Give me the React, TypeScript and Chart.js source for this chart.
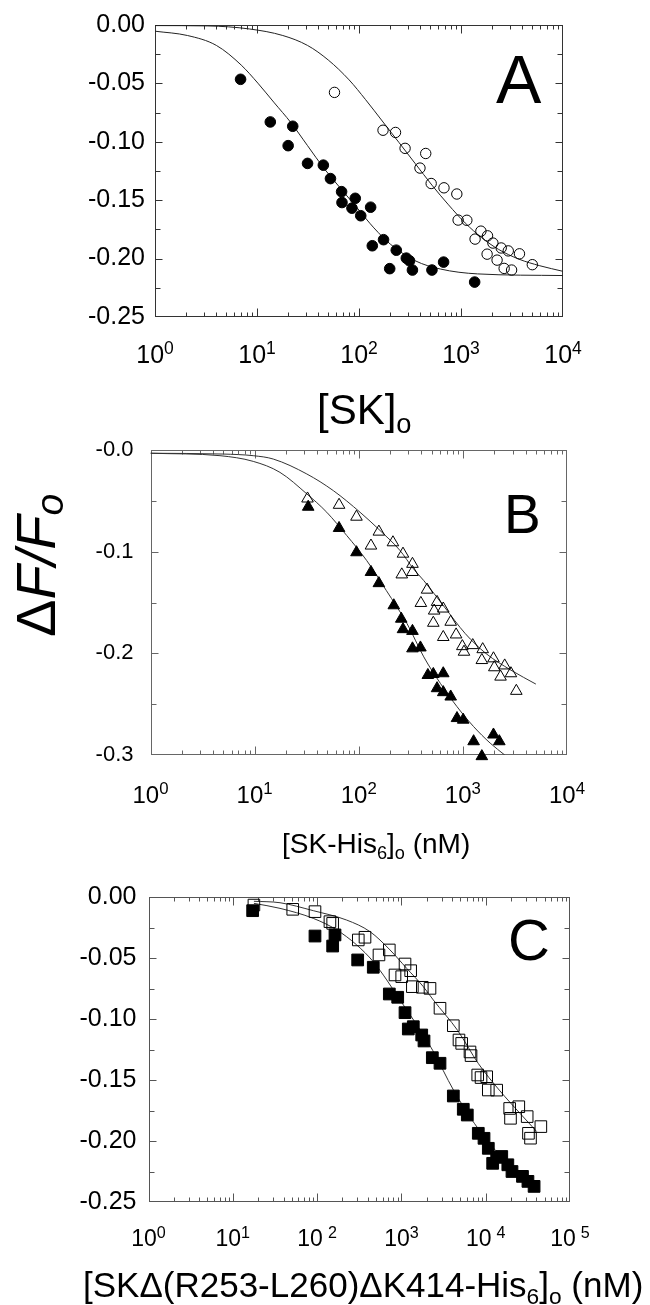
import React, { useEffect, useRef } from 'react';
import { Chart, registerables } from 'chart.js';

Chart.register(...registerables);

const FONT = '"Liberation Sans", Arial, sans-serif';
const NARROW = '"Liberation Sans Narrow", "Liberation Sans", Arial, sans-serif';

// ---------------- Panel A : [SK]o ----------------
const aFilledX = [6.9, 13.5, 22.4, 20.2, 31.3, 44.7, 52.5, 67.5, 68.1, 91.9, 85.3, 104, 130, 135, 174, 232, 200, 291, 313, 334, 519, 675, 1361];
const aFilledY = [-0.0465, -0.083, -0.0867, -0.1033, -0.1185, -0.12, -0.1315, -0.1427, -0.152, -0.1484, -0.1568, -0.1633, -0.156, -0.189, -0.1838, -0.1928, -0.2086, -0.1996, -0.2019, -0.2098, -0.2098, -0.203, -0.2201];
const aOpenX = [57.5, 172, 228, 283, 451, 396, 510, 681, 910, 937, 1141, 1374, 1567, 1820, 2055, 1803, 2258, 2478, 2906, 2649, 3133, 3743, 5003];
const aOpenY = [-0.0577, -0.0901, -0.092, -0.1056, -0.11, -0.1225, -0.1357, -0.1394, -0.1447, -0.167, -0.1672, -0.1833, -0.1765, -0.1805, -0.1867, -0.1962, -0.2013, -0.1909, -0.1934, -0.2084, -0.2098, -0.1959, -0.2052];
const aFitFilledX = [1, 2.08, 4, 7, 10.2, 14.8, 21.5, 31.3, 45.6, 66.2, 96.3, 140, 204, 357, 626, 1455, 10000];
const aFitFilledY = [-0.0053, -0.009, -0.0175, -0.0343, -0.0498, -0.0667, -0.0836, -0.1033, -0.123, -0.14, -0.1568, -0.1737, -0.1878, -0.2019, -0.2089, -0.2131, -0.2145];
const aFitOpenX = [1, 3.3, 8.45, 17.9, 31.3, 50, 80, 116, 169, 246, 357, 519, 755, 1099, 1596, 2322, 3706, 5918, 10000];
const aFitOpenY = [-0.0005, -0.0008, -0.0034, -0.009, -0.0175, -0.03, -0.047, -0.0639, -0.0822, -0.1005, -0.1188, -0.1371, -0.154, -0.1695, -0.1821, -0.192, -0.2005, -0.2061, -0.2109];

// ---------------- Panel B : [SK-His6]o ----------------
const bOpenX = [32.2, 64.7, 95.1, 156, 131, 213, 266, 328, 259, 328, 453, 395, 565, 530, 648, 520, 764, 648, 861, 988, 1025, 1244, 1521, 1550, 1967, 2005, 2521, 2300, 2893, 3260];
const bOpenY = [-0.0477, -0.0539, -0.0656, -0.0803, -0.094, -0.0908, -0.102, -0.112, -0.1224, -0.12, -0.1374, -0.1505, -0.1495, -0.158, -0.156, -0.17, -0.169, -0.184, -0.1815, -0.193, -0.1985, -0.192, -0.2067, -0.196, -0.205, -0.2138, -0.212, -0.223, -0.2197, -0.237];
const bFilledX = [32.7, 64.7, 95.1, 131, 156, 217, 256, 266, 328, 328, 391, 461, 520, 648, 565, 648, 764, 878, 1007, 1268, 1967, 2239, 1521];
const bFilledY = [-0.0558, -0.0767, -0.1006, -0.12, -0.131, -0.1528, -0.166, -0.1763, -0.178, -0.1952, -0.1943, -0.2214, -0.2204, -0.2197, -0.2344, -0.2383, -0.2426, -0.2638, -0.2654, -0.2866, -0.28, -0.2866, -0.3013];
const bFitOpenX = [1, 5, 9.7, 15.1, 31.7, 57, 103, 160, 249, 335, 421, 666, 1054, 1667, 2896, 5024];
const bFitOpenY = [-0.003, -0.0038, -0.0054, -0.0087, -0.0234, -0.0398, -0.0611, -0.079, -0.0987, -0.1167, -0.1283, -0.1544, -0.1805, -0.2001, -0.2165, -0.2302];
const bFitFilledX = [1, 4.65, 9.7, 17.5, 31.7, 49.3, 76.7, 119, 184, 291, 421, 608, 878, 1267, 1829, 2522];
const bFitFilledY = [-0.003, -0.0054, -0.011, -0.0218, -0.043, -0.0611, -0.084, -0.1085, -0.1381, -0.1707, -0.2034, -0.2295, -0.2524, -0.272, -0.2883, -0.3];

// ---------------- Panel C : [SKΔ(R253-L260)ΔK414-His6]o ----------------
const cOpenX = [17.8, 51.4, 94.4, 142, 153, 308, 370, 542, 719, 1104, 1288, 840, 1008, 1349, 1770, 2184, 2870, 4130, 4820, 5190, 6510, 6700, 8040, 8800, 10280, 10740, 13500, 19250, 24700, 19690, 31050, 32150, 34000, 45100];
const cOpenY = [-0.0066, -0.0101, -0.012, -0.0202, -0.0216, -0.0352, -0.033, -0.0475, -0.0434, -0.0549, -0.0604, -0.0639, -0.0653, -0.0735, -0.074, -0.0749, -0.0912, -0.1055, -0.1172, -0.12, -0.127, -0.13, -0.1459, -0.148, -0.1473, -0.1582, -0.1583, -0.1733, -0.1719, -0.1814, -0.18, -0.1937, -0.1977, -0.1882];
const cFilledX = [17.2, 94.4, 163, 153, 303, 464, 719, 904, 1104, 1208, 1384, 1742, 1854, 2328, 2870, 4130, 5420, 6050, 8170, 9550, 10740, 12100, 13500, 15500, 18300, 20500, 27300, 31700, 37500];
const cFilledY = [-0.0112, -0.032, -0.0311, -0.0402, -0.0516, -0.0576, -0.0795, -0.0822, -0.0948, -0.1082, -0.1063, -0.1131, -0.118, -0.1317, -0.1363, -0.1631, -0.174, -0.1787, -0.1937, -0.1978, -0.206, -0.2183, -0.2134, -0.2127, -0.2195, -0.225, -0.229, -0.2331, -0.2372];
const cFitOpenX = [17.8, 36.3, 90, 224, 424, 733, 1156, 1820, 2390, 4650, 8200, 14500, 25580, 40300];
const cFitOpenY = [-0.0035, -0.0047, -0.0112, -0.0189, -0.0284, -0.0434, -0.0585, -0.0735, -0.0844, -0.1094, -0.1366, -0.1583, -0.1774, -0.1923];
const cFitFilledX = [17.8, 36.3, 90, 171, 295, 464, 670, 962, 1493, 2350, 4150, 7330, 12920, 22800, 40300];
const cFitFilledY = [-0.0052, -0.0093, -0.0175, -0.027, -0.0393, -0.053, -0.068, -0.0844, -0.1039, -0.1257, -0.1583, -0.1855, -0.2073, -0.2236, -0.2345];

// ---------------- tick labels ----------------
const aYTicks = ['0.00', '-0.05', '-0.10', '-0.15', '-0.20', '-0.25'];
const bYTicks = ['-0.0', '-0.1', '-0.2', '-0.3'];
const cYTicks = ['0.00', '-0.05', '-0.10', '-0.15', '-0.20', '-0.25'];
const aDecades = [0, 1, 2, 3, 4];
const bDecades = [0, 1, 2, 3, 4];
const cDecades = [0, 1, 2, 3, 4, 5];

type Seg = { t: string; s?: number; dy?: number; dx?: number; italic?: boolean };

function drawRich(ctx: CanvasRenderingContext2D, segs: Seg[], x: number, y: number, fs: number, family: string, align: 'left' | 'center' = 'left') {
  const fontFor = (sg: Seg) => `${sg.italic ? 'italic ' : ''}${fs * (sg.s ?? 1)}px ${family}`;
  let total = 0;
  const ws = segs.map((sg) => {
    ctx.font = fontFor(sg);
    const w = ctx.measureText(sg.t).width + (sg.dx ?? 0);
    total += w;
    return w;
  });
  let cx = align === 'center' ? x - total / 2 : x;
  ctx.textAlign = 'left';
  ctx.textBaseline = 'alphabetic';
  ctx.fillStyle = '#000';
  segs.forEach((sg, i) => {
    ctx.font = fontFor(sg);
    ctx.fillText(sg.t, cx + (sg.dx ?? 0), y + (sg.dy ?? 0));
    cx += ws[i];
  });
}

const pts = (xs: number[], ys: number[]) => xs.map((x, i) => ({ x, y: ys[i] }));

function markerSet(xs: number[], ys: number[], style: string, radius: number, filled: boolean) {
  return {
    type: 'scatter',
    data: pts(xs, ys),
    pointStyle: style,
    pointRadius: radius,
    pointHoverRadius: radius,
    pointBackgroundColor: filled ? '#000' : 'rgba(255,255,255,0)',
    pointBorderColor: '#000',
    pointBorderWidth: 1,
    showLine: false,
    clip: false,
  };
}

function curveSet(xs: number[], ys: number[], color: string) {
  return {
    type: 'line',
    data: pts(xs, ys),
    borderColor: color,
    borderWidth: 1,
    pointRadius: 0,
    pointHoverRadius: 0,
    fill: false,
    cubicInterpolationMode: 'monotone',
    showLine: true,
  };
}

interface PanelDef {
  canvasTop: number;
  canvasH: number;
  left: number;
  right: number;
  top: number;
  bottom: number;
  xMin: number;
  xMax: number;
  decades: number[];
  yMin: number;
  yMax: number;
  yStep: number;
  yMinor: number;
  yLabels: string[];
  yFont: number;
  yPad: number;
  frame: string;
  xFont: number;
  xBase: number;
  expGap: (d: number) => number;
  datasets: any[];
  texts: (ctx: CanvasRenderingContext2D, off: number) => void;
}

const panels: PanelDef[] = [
  {
    canvasTop: 0, canvasH: 450,
    left: 155, right: 563, top: 21, bottom: 317,
    xMin: 1, xMax: 1e4, decades: aDecades,
    yMin: -0.25, yMax: 0, yStep: 0.05, yMinor: 0.025, yLabels: aYTicks, yFont: 25, yPad: 10,
    frame: '#333', xFont: 25, xBase: 363, expGap: () => 0,
    datasets: [
      markerSet(aFilledX, aFilledY, 'circle', 5.3, true),
      markerSet(aOpenX, aOpenY, 'circle', 5.2, false),
      curveSet(aFitFilledX, aFitFilledY, '#222'),
      curveSet(aFitOpenX, aFitOpenY, '#222'),
    ],
    texts: (ctx, off) => {
      drawRich(ctx, [{ t: '[SK]' }, { t: 'o', s: 0.65, dy: 9 }], 317, 424 - off, 42, FONT);
      drawRich(ctx, [{ t: 'A' }], 496, 103 - off, 68, FONT);
    },
  },
  {
    canvasTop: 420, canvasH: 450,
    left: 150.5, right: 567, top: 449.5, bottom: 755,
    xMin: 1, xMax: 1e4, decades: bDecades,
    yMin: -0.3, yMax: 0, yStep: 0.1, yMinor: 0.05, yLabels: bYTicks, yFont: 22, yPad: 17,
    frame: '#666', xFont: 24, xBase: 803, expGap: () => 0,
    datasets: [
      markerSet(bFilledX, bFilledY, 'triangle', 6.7, true),
      markerSet(bOpenX, bOpenY, 'triangle', 6.7, false),
      curveSet(bFitFilledX, bFitFilledY, '#333'),
      curveSet(bFitOpenX, bFitOpenY, '#333'),
    ],
    texts: (ctx, off) => {
      drawRich(ctx, [{ t: '[SK-His' }, { t: '6', s: 0.65, dy: 6 }, { t: ']' }, { t: 'o', s: 0.65, dy: 6 }, { t: ' (nM)' }], 282, 853 - off, 28, FONT);
      drawRich(ctx, [{ t: 'B' }], 504, 533 - off, 55, FONT);
      ctx.save();
      ctx.translate(55, 637 - off);
      ctx.rotate(-Math.PI / 2);
      drawRich(ctx, [{ t: 'Δ' }, { t: 'F/F', italic: true }, { t: 'o', italic: true, s: 0.7, dy: 8 }], 0, 0, 56, FONT);
      ctx.restore();
    },
  },
  {
    canvasTop: 860, canvasH: 445,
    left: 148.5, right: 570, top: 897, bottom: 1202,
    xMin: 1, xMax: 1e5, decades: cDecades,
    yMin: -0.25, yMax: 0, yStep: 0.05, yMinor: 0.025, yLabels: cYTicks, yFont: 25, yPad: 12,
    frame: '#555', xFont: 23, xBase: 1246, expGap: (d) => (d === 2 || d === 4 || d === 5 ? 5 : 0),
    datasets: [
      markerSet(cFilledX, cFilledY, 'rect', 8.3, true),
      markerSet(cOpenX, cOpenY, 'rect', 8.2, false),
      curveSet(cFitFilledX, cFitFilledY, '#333'),
      curveSet(cFitOpenX, cFitOpenY, '#333'),
    ],
    texts: (ctx, off) => {
      drawRich(ctx, [{ t: '[SKΔ(R253-L260)ΔK414-His' }, { t: '6', s: 0.65, dy: 7 }, { t: ']' }, { t: 'o', s: 0.65, dy: 7 }, { t: ' (nM)' }], 83, 1297 - off, 35, FONT);
      drawRich(ctx, [{ t: 'C' }], 508, 960 - off, 58, NARROW);
    },
  },
];

function makeDecor(p: PanelDef) {
  return {
    id: 'decor',
    beforeDatasetsDraw(chart: any) {
      const { ctx, chartArea } = chart;
      const xs = chart.scales.x;
      const ys = chart.scales.y;
      const l = Math.round(chartArea.left) + 0.5;
      const r = Math.round(chartArea.right) - 0.5;
      const t = Math.round(chartArea.top) + 0.5;
      const b = Math.round(chartArea.bottom) - 0.5;
      ctx.save();
      ctx.strokeStyle = p.frame;
      ctx.lineWidth = 1;
      ctx.strokeRect(l, t, r - l, b - t);
      ctx.beginPath();
      const n = Math.round((p.yMax - p.yMin) / p.yMinor);
      for (let i = 1; i < n; i++) {
        const v = p.yMin + i * p.yMinor;
        const major = Math.abs(v / p.yStep - Math.round(v / p.yStep)) < 1e-6;
        const len = major ? 7 : 5;
        const py = Math.round(ys.getPixelForValue(v)) + 0.5;
        ctx.moveTo(l, py); ctx.lineTo(l + len, py);
        ctx.moveTo(r, py); ctx.lineTo(r - len, py);
      }
      const ds = p.decades;
      for (let k = 0; k < ds.length; k++) {
        const d = ds[k];
        if (k > 0 && k < ds.length - 1) {
          const px = Math.round(xs.getPixelForValue(Math.pow(10, d))) + 0.5;
          ctx.moveTo(px, b); ctx.lineTo(px, b - 8);
          ctx.moveTo(px, t); ctx.lineTo(px, t + 8);
        }
        if (k < ds.length - 1) {
          for (let m = 2; m <= 9; m++) {
            const px = Math.round(xs.getPixelForValue(m * Math.pow(10, d))) + 0.5;
            ctx.moveTo(px, b); ctx.lineTo(px, b - 4);
            ctx.moveTo(px, t); ctx.lineTo(px, t + 4);
          }
        }
      }
      ctx.stroke();
      ctx.restore();
    },
    afterDraw(chart: any) {
      const { ctx } = chart;
      const xs = chart.scales.x;
      ctx.save();
      for (const d of p.decades) {
        const px = xs.getPixelForValue(Math.pow(10, d));
        drawRich(ctx, [{ t: '10' }, { t: String(d), s: 0.7, dy: -0.36 * p.xFont, dx: p.expGap(d) }], px, p.xBase - p.canvasTop, p.xFont, FONT, 'center');
      }
      p.texts(ctx, p.canvasTop);
      ctx.restore();
    },
  };
}

function Panel({ p }: { p: PanelDef }) {
  const ref = useRef<HTMLCanvasElement>(null);
  useEffect(() => {
    const canvas = ref.current;
    if (!canvas) return;
    const chart = new Chart(canvas, {
      type: 'scatter',
      data: { datasets: p.datasets as any },
      options: {
        animation: false,
        responsive: false,
        devicePixelRatio: 1,
        events: [],
        layout: {
          padding: {
            left: 0,
            right: 650 - p.right,
            top: p.top - p.canvasTop,
            bottom: p.canvasTop + p.canvasH - p.bottom,
          },
        },
        plugins: { legend: { display: false }, tooltip: { enabled: false } },
        scales: {
          x: { type: 'logarithmic', min: p.xMin, max: p.xMax, display: false },
          y: {
            type: 'linear',
            min: p.yMin,
            max: p.yMax,
            position: 'left',
            grid: { display: false, drawTicks: false },
            border: { display: false },
            ticks: {
              stepSize: p.yStep,
              color: '#000',
              padding: p.yPad,
              font: { size: p.yFont, family: FONT },
              callback: (_v: any, i: number, ticks: any[]) => p.yLabels[ticks.length - 1 - i],
            },
            afterFit: (s: any) => { s.width = p.left; },
          },
        },
      } as any,
      plugins: [makeDecor(p)],
    });
    return () => chart.destroy();
  }, [p]);
  return (
    <canvas
      ref={ref}
      width={650}
      height={p.canvasH}
      style={{ position: 'absolute', left: 0, top: p.canvasTop, width: 650, height: p.canvasH }}
    />
  );
}

export default function App() {
  useEffect(() => {
    document.body.style.margin = '0';
  }, []);
  return (
    <div style={{ position: 'absolute', left: 0, top: 0, width: 650, height: 1305, background: '#fff', overflow: 'hidden' }}>
      {panels.map((p, i) => (
        <Panel key={i} p={p} />
      ))}
    </div>
  );
}
